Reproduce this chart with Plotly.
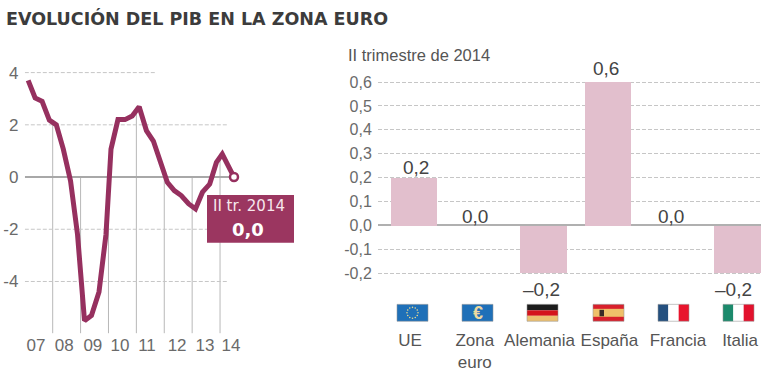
import math
import plotly.graph_objects as go

W, H = 768, 372

# ---------- data ----------
TITLE = "EVOLUCIÓN DEL PIB EN LA ZONA EURO"
SUBTITLE = "II trimestre de 2014"
quarter_years = [2007.12, 2007.37, 2007.62, 2007.88, 2008.13, 2008.38, 2008.64, 2008.89,
                 2009.14, 2009.39, 2009.66, 2009.91, 2010.09, 2010.34, 2010.59, 2010.85,
                 2011.10, 2011.36, 2011.61, 2011.86, 2012.11, 2012.36, 2012.61, 2012.87,
                 2013.12, 2013.37, 2013.63, 2013.87, 2014.08, 2014.50]
gdp_values = [3.7, 3.03, 2.9, 2.18, 2.0, 1.07, -0.15, -2.2,
              -5.5, -5.3, -4.4, -2.2, 1.07, 2.2, 2.2, 2.34,
              2.69, 1.78, 1.38, 0.56, -0.2, -0.52, -0.71, -1.02,
              -1.22, -0.58, -0.27, 0.56, 0.88, 0.0]
year_labels = ["07", "08", "09", "10", "11", "12", "13", "14"]
year_label_pos = [2007.40, 2008.41, 2009.44, 2010.41, 2011.38, 2012.46, 2013.46, 2014.39]
year_lines = [2008, 2009, 2010, 2011, 2012, 2013, 2014]
year_line_tops = [2.0, 0.0, 0.0, 2.7, 0.0, 0.0, 0.9]
left_ticks = [4, 2, 0, -2, -4]
left_grid_ends = [2011.70, 2014.28, 2014.5, 2014.3, 2014.3]

countries = ["UE", "Zona<br>euro", "Alemania", "España", "Francia", "Italia"]
country_index = [0, 1, 2, 3, 4, 5]
country_label_pos = [-0.06, 0.94, 1.94, 3.02, 4.08, 5.04]
growth = [0.2, 0.0, -0.2, 0.6, 0.0, -0.2]
growth_labels = ["0,2", "0,0", "–0,2", "0,6", "0,0", "–0,2"]
right_ticks = [0.6, 0.5, 0.4, 0.3, 0.2, 0.1, 0.0, -0.1, -0.2]
right_tick_text = ["0,6", "0,5", "0,4", "0,3", "0,2", "0,1", "0,0", "-0,1", "-0,2"]
callout_period = "II tr. 2014"
callout_value = "0,0"

# ---------- helpers ----------
def px(x):
    return x / W

def py(y):
    return 1 - y / H

LINE = "#96305f"
GRID = "#c6c6c6"
TICK = "#6a6a6a"
SANS = "Liberation Sans, Arial, sans-serif"
VERD = "DejaVu Sans, Verdana, sans-serif"

fig = go.Figure()

# ---------- left chart ----------
shapes = []
for level, end in zip(left_ticks, left_grid_ends):
    shapes.append(dict(type="line", xref="x", yref="y", x0=2007, x1=end, y0=level, y1=level, layer="below",
                       line=dict(color="#a8a8a8" if level == 0 else GRID, width=2 if level == 0 else 1,
                                 dash="solid" if level == 0 else "4px,2px")))
for yr_, top in zip(year_lines, year_line_tops):
    shapes.append(dict(type="line", xref="x", yref="paper", x0=yr_, x1=yr_, y0=py(335), y1=py(178 - top * 26.25),
                       layer="below", line=dict(color="#b8b8b8", width=1)))

fig.add_trace(go.Scatter(x=quarter_years, y=gdp_values, mode="lines", xaxis="x", yaxis="y",
                         line=dict(color=LINE, width=5), hoverinfo="skip", showlegend=False))
fig.add_trace(go.Scatter(x=quarter_years[-1:], y=gdp_values[-1:], mode="markers", xaxis="x", yaxis="y",
                         marker=dict(color="white", size=8, line=dict(color=LINE, width=2.5)),
                         hoverinfo="skip", showlegend=False, cliponaxis=False))

# ---------- right chart ----------
fig.add_trace(go.Bar(x=country_index, y=growth, xaxis="x2", yaxis="y2", width=0.72,
                     marker=dict(color="#e2bfcd", line=dict(width=0)), hoverinfo="skip", showlegend=False))

# ---------- callout ----------
shapes.append(dict(type="rect", xref="paper", yref="paper", x0=px(207), x1=px(294), y0=py(244), y1=py(196),
                   fillcolor="#9b3660", line=dict(width=0), layer="above"))

# ---------- flags ----------
FY0, FY1, FW = 306, 323, 31
def rect(x0, x1, y0, y1, color):
    shapes.append(dict(type="rect", xref="paper", yref="paper", x0=px(x0), x1=px(x1), y0=py(y1), y1=py(y0),
                       fillcolor=color, line=dict(width=0)))

def frame(x0):
    shapes.append(dict(type="rect", xref="paper", yref="paper", x0=px(x0), x1=px(x0 + FW), y0=py(FY1), y1=py(FY0),
                       fillcolor="rgba(0,0,0,0)", line=dict(width=1, color="rgba(150,150,150,0.55)")))

flag_left = [397, 462, 527, 593, 658, 723]
# EU
x = flag_left[0]
rect(x, x + FW, FY0, FY1, "#1f70b8")
cx, cy = x + FW / 2, (FY0 + FY1) / 2
for k in range(12):
    a = 2 * math.pi * k / 12
    sx, sy = cx + 5.5 * math.cos(a), cy + 5.5 * math.sin(a)
    shapes.append(dict(type="circle", xref="paper", yref="paper", x0=px(sx - 0.8), x1=px(sx + 0.8),
                       y0=py(sy + 0.8), y1=py(sy - 0.8), fillcolor="#e8d890", line=dict(width=0)))
# Euro
x = flag_left[1]
rect(x, x + FW, FY0, FY1, "#1f70b8")
# Germany
x = flag_left[2]
rect(x, x + FW, FY0, FY0 + 6, "#1c1c1c")
rect(x, x + FW, FY0 + 6, FY0 + 11.5, "#d4141c")
rect(x, x + FW, FY0 + 11.5, FY1, "#ecc070")
# Spain
x = flag_left[3]
rect(x, x + FW, FY0, FY1, "#d8202c")
rect(x, x + FW, FY0 + 4.5, FY1 - 4.5, "#efc06a")
rect(x + 6.5, x + 11, FY0 + 5.5, FY1 - 5, "#3a2a26")
# France
x = flag_left[4]
rect(x, x + FW / 3, FY0, FY1, "#24507f")
rect(x + FW / 3, x + 2 * FW / 3, FY0, FY1, "#ffffff")
rect(x + 2 * FW / 3, x + FW, FY0, FY1, "#e8152d")
# Italy
x = flag_left[5]
rect(x, x + FW / 3, FY0, FY1, "#1c8a6c")
rect(x + FW / 3, x + 2 * FW / 3, FY0, FY1, "#ffffff")
rect(x + 2 * FW / 3, x + FW, FY0, FY1, "#e2122d")
for x in flag_left:
    frame(x)

# ---------- text ----------
annotations = [
    dict(text=f"<b>{TITLE}</b>", x=px(4), y=py(19), xref="paper", yref="paper", xanchor="left", yanchor="middle",
         showarrow=False, font=dict(family=VERD, size=17.5, color="#3c3c3c")),
    dict(text=SUBTITLE, x=px(346), y=py(55), xref="paper", yref="paper", xanchor="left", yanchor="middle",
         showarrow=False, font=dict(family=SANS, size=16.5, color="#555555")),
    dict(text=callout_period, x=px(248.5), y=py(207), xref="paper", yref="paper", xanchor="center", yanchor="middle",
         showarrow=False, font=dict(family=VERD, size=15, color="#f6e6ec")),
    dict(text=f"<b>{callout_value}</b>", x=px(248), y=py(231), xref="paper", yref="paper", xanchor="center",
         yanchor="middle", showarrow=False, font=dict(family=VERD, size=18, color="#ffffff")),
    dict(text="<b>€</b>", x=px(477.5), y=py(314.5), xref="paper", yref="paper", xanchor="center", yanchor="middle",
         showarrow=False, font=dict(family=SANS, size=18, color="#ecd9a0")),
]

# value labels: placed on the bar values through the right chart's axes
label_yshift = [10, 9, -16, 14, 9, -16]
label_xshift = [2, -4, -2, -2, -2, -4]
for i, v, t, dy, dx in zip(country_index, growth, growth_labels, label_yshift, label_xshift):
    annotations.append(dict(text=t, x=i, y=v, xref="x2", yref="y2", xanchor="center", yanchor="middle",
                            yshift=dy, xshift=dx, showarrow=False,
                            font=dict(family=SANS, size=19, color="#444444")))

# ---------- axes ----------
def yr(p):
    return 2008 + (p - 52.7) / 27.89

def idx(p):
    return (p - 414) / 64.7

LT, LB = 60, 335
RT, RB = 60, 330

fig.update_layout(
    width=W, height=H, autosize=False,
    margin=dict(l=0, r=0, t=0, b=0),
    paper_bgcolor="white", plot_bgcolor="rgba(0,0,0,0)",
    showlegend=False, bargap=0,
    shapes=shapes, annotations=annotations,
    xaxis=dict(domain=[px(24.8), px(250)], range=[yr(24.8), yr(250)], anchor="y",
               tickmode="array", tickvals=year_label_pos, ticktext=year_labels, showgrid=False, zeroline=False,
               showline=False, ticks="", tickangle=0, tickfont=dict(family=SANS, size=17, color=TICK)),
    yaxis=dict(domain=[py(LB), py(LT)], range=[(178 - LB) / 26.25, (178 - LT) / 26.25], anchor="x",
               tickmode="array", tickvals=left_ticks, ticktext=[str(v) for v in left_ticks], showgrid=False,
               zeroline=False, showline=False, ticks="outside", ticklen=2, tickcolor="rgba(0,0,0,0)",
               tickfont=dict(family=SANS, size=17, color=TICK)),
    xaxis2=dict(domain=[px(378), px(761)], range=[idx(378), idx(761)], anchor="y2",
                tickmode="array", tickvals=country_label_pos, ticktext=countries,
                showgrid=False, zeroline=False, showline=False, ticks="", tickangle=0,
                tickfont=dict(family=SANS, size=17, color="#555555")),
    yaxis2=dict(domain=[py(RB), py(RT)], range=[(226.5 - RB) / 240, (226.5 - RT) / 240], anchor="x2",
                tickmode="array", tickvals=right_ticks, ticktext=right_tick_text, showgrid=True, gridcolor=GRID,
                griddash="4px,2px", gridwidth=1, zeroline=True, zerolinecolor="#b0b0b0", zerolinewidth=2,
                showline=False, ticks="outside", ticklen=2, tickcolor="rgba(0,0,0,0)",
                tickfont=dict(family=SANS, size=16, color=TICK)),
)

fig.write_html("out.html", config={"displayModeBar": False},
               post_script="document.body.style.margin='0';document.body.style.overflow='hidden';")
